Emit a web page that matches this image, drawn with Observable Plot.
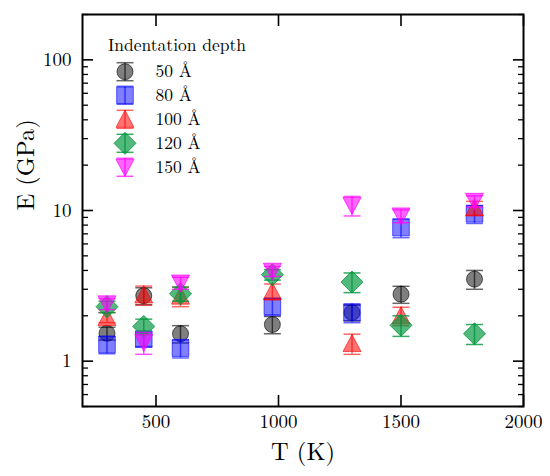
<!DOCTYPE html>
<html><head><meta charset="utf-8">
<script src="https://cdn.jsdelivr.net/npm/d3@7"></script>
<script src="https://cdn.jsdelivr.net/npm/@observablehq/plot@0.6"></script>
<style>
body{margin:0;background:#fff;}
#wrap{position:relative;width:550px;height:476px;font-family:"Latin Modern Roman","Liberation Serif",serif;color:#000;}
#wrap svg{position:absolute;left:0;top:0;}
</style></head><body><div id="wrap"></div>
<script>
// ---- data ----
const temps = [300, 450, 600, 975, 1300, 1500, 1800];
const depthLabels = ["50 Å", "80 Å", "100 Å", "120 Å", "150 Å"];
const E50  = [1.53, 2.72, 1.52, 1.75, 2.10, 2.78, 3.50];
const err50  = [0.15, 0.35, 0.20, 0.23, 0.25, 0.36, 0.50];
const E80  = [1.29, 1.40, 1.22, 2.31, 2.10, 7.70, 9.50];
const err80  = [0.17, 0.15, 0.17, 0.30, 0.30, 1.10, 1.30];
const E100 = [1.95, 2.75, 2.70, 2.90, 1.31, 2.00, 10.4];
const err100 = [0.15, 0.40, 0.40, 0.35, 0.20, 0.28, 1.10];
const E120 = [2.30, 1.70, 2.80, 3.75, 3.35, 1.73, 1.52];
const err120 = [0.20, 0.20, 0.30, 0.30, 0.50, 0.27, 0.23];
const E150 = [2.40, 1.33, 3.30, 3.95, 10.8, 9.20, 11.5];
const err150 = [0.20, 0.22, 0.30, 0.30, 1.60, 0.90, 1.00];
const xTicks = [500, 1000, 1500, 2000];
const yMajor = [1, 10, 100];
const yMinor = [0.5,0.6,0.7,0.8,0.9,2,3,4,5,6,7,8,9,20,30,40,50,60,70,80,90,200];
const legendTitle = "Indentation depth";

// ---- symbols (marker shapes) ----
const symCircle = {draw(c){ c.moveTo(8,0); c.arc(0,0,8,0,2*Math.PI); c.closePath(); }};
const symSquare = {draw(c){ c.moveTo(-8.3,-8.3); c.lineTo(8.3,-8.3); c.lineTo(8.3,8.3); c.lineTo(-8.3,8.3); c.closePath(); }};
const symTriUp = {draw(c){ c.moveTo(0,-9); c.lineTo(9,8); c.lineTo(-9,8); c.closePath(); }};
const symDiamond = {draw(c){ c.moveTo(0,-11); c.lineTo(11,0); c.lineTo(0,11); c.lineTo(-11,0); c.closePath(); }};
const symTriDown = {draw(c){ c.moveTo(0,9); c.lineTo(9,-8); c.lineTo(-9,-8); c.closePath(); }};
const symCap = {draw(c){ c.moveTo(-8.5,0); c.lineTo(8.5,0); }};

const FONT = "Latin Modern Roman, Liberation Serif, serif";
const styles = [
  {sym: symCircle,  color: "#000000", fo: 0.5,  so: 0.6},
  {sym: symSquare,  color: "#0000ff", fo: 0.5,  so: 0.6},
  {sym: symTriUp,   color: "#ff0000", fo: 0.55, so: 0.6},
  {sym: symDiamond, color: "#00963c", fo: 0.68, so: 0.8},
  {sym: symTriDown, color: "#ff00ff", fo: 0.6,  so: 0.7}
];
const values = [E50, E80, E100, E120, E150];
const errs = [err50, err80, err100, err120, err150];

const seriesMarks = [];
depthLabels.forEach((name, k) => {
  const st = styles[k];
  const rows = temps.map((t, i) => ({T: t, E: values[k][i], lo: values[k][i] - errs[k][i], hi: values[k][i] + errs[k][i], depth: name}));
  seriesMarks.push(
    Plot.ruleX(rows, {x: "T", y1: "lo", y2: "hi", stroke: st.color, strokeOpacity: st.so, strokeWidth: 1.5}),
    Plot.dot(rows, {x: "T", y: "lo", symbol: symCap, fill: "none", stroke: st.color, strokeOpacity: st.so, strokeWidth: 1.5}),
    Plot.dot(rows, {x: "T", y: "hi", symbol: symCap, fill: "none", stroke: st.color, strokeOpacity: st.so, strokeWidth: 1.5}),
    Plot.dot(rows, {x: "T", y: "E", symbol: st.sym, fill: st.color, fillOpacity: st.fo, stroke: st.color, strokeOpacity: st.so, strokeWidth: 1})
  );
});

const tickOnly = {fill: "none", label: null, tickFormat: () => ""};
const chart = Plot.plot({
  width: 550, height: 476,
  marginTop: 14, marginRight: 27, marginBottom: 70, marginLeft: 82,
  style: {fontFamily: FONT, fontSize: "19px", color: "black", background: "transparent"},
  x: {domain: [200, 2000]},
  y: {type: "log", domain: [0.5, 200]},
  marks: [
    ...seriesMarks,
    Plot.axisX(xTicks, {...tickOnly, anchor: "bottom", tickSize: 11, insetBottom: 11, strokeWidth: 1.6}),
    Plot.axisX(xTicks, {...tickOnly, anchor: "top", tickSize: 11, insetTop: 11, strokeWidth: 1.6}),
    Plot.axisY(yMajor, {...tickOnly, anchor: "left", tickSize: 11, insetLeft: 11, strokeWidth: 1.6}),
    Plot.axisY(yMajor, {...tickOnly, anchor: "right", tickSize: 11, insetRight: 11, strokeWidth: 1.6}),
    Plot.axisY(yMinor, {...tickOnly, anchor: "left", tickSize: 6, insetLeft: 6, strokeWidth: 1.3}),
    Plot.axisY(yMinor, {...tickOnly, anchor: "right", tickSize: 6, insetRight: 6, strokeWidth: 1.3}),
    Plot.axisX(xTicks, {anchor: "bottom", tickSize: 0, tickPadding: 8, fontSize: 19, label: null, tickFormat: d => String(d)}),
    Plot.axisY(yMajor, {anchor: "left", tickSize: 0, tickPadding: 11, fontSize: 19, label: null, tickFormat: d => String(d)}),
    Plot.text(["T (K)"], {frameAnchor: "bottom", dy: 46, fontSize: 24.5, lineAnchor: "middle"}),
    Plot.text(["E (GPa)"], {frameAnchor: "left", dx: -56, rotate: -90, fontSize: 24.5, lineAnchor: "middle"}),
    Plot.frame({stroke: "black", strokeWidth: 2})
  ]
});
const wrap = document.getElementById("wrap");
wrap.appendChild(chart);

// ---- legend (overlay SVG) ----
const lg = d3.select(wrap).append("svg").attr("width", 550).attr("height", 476)
  .style("pointer-events", "none").attr("font-family", FONT);
lg.append("text").attr("x", 108).attr("y", 50.5).attr("font-size", 17.5).text(legendTitle);
const rowCenters = [71.7, 95.3, 119.3, 143.3, 167.3];
depthLabels.forEach((name, k) => {
  const st = styles[k];
  const p = d3.path();
  st.sym.draw(p);
  const g = lg.append("g").attr("transform", `translate(125,${rowCenters[k]})`);
  g.append("line").attr("x1", 0).attr("x2", 0).attr("y1", -9).attr("y2", 9)
    .attr("stroke", st.color).attr("stroke-opacity", st.so).attr("stroke-width", 1.5);
  [-9, 9].forEach(yy => g.append("line").attr("x1", -8.5).attr("x2", 8.5).attr("y1", yy).attr("y2", yy)
    .attr("stroke", st.color).attr("stroke-opacity", st.so).attr("stroke-width", 1.5));
  g.append("path").attr("d", p.toString()).attr("fill", st.color).attr("fill-opacity", st.fo)
    .attr("stroke", st.color).attr("stroke-opacity", st.so);
  lg.append("text").attr("x", 155.5).attr("y", rowCenters[k] + 5.6).attr("font-size", 17.5).text(name);
});
</script>
</body></html>
